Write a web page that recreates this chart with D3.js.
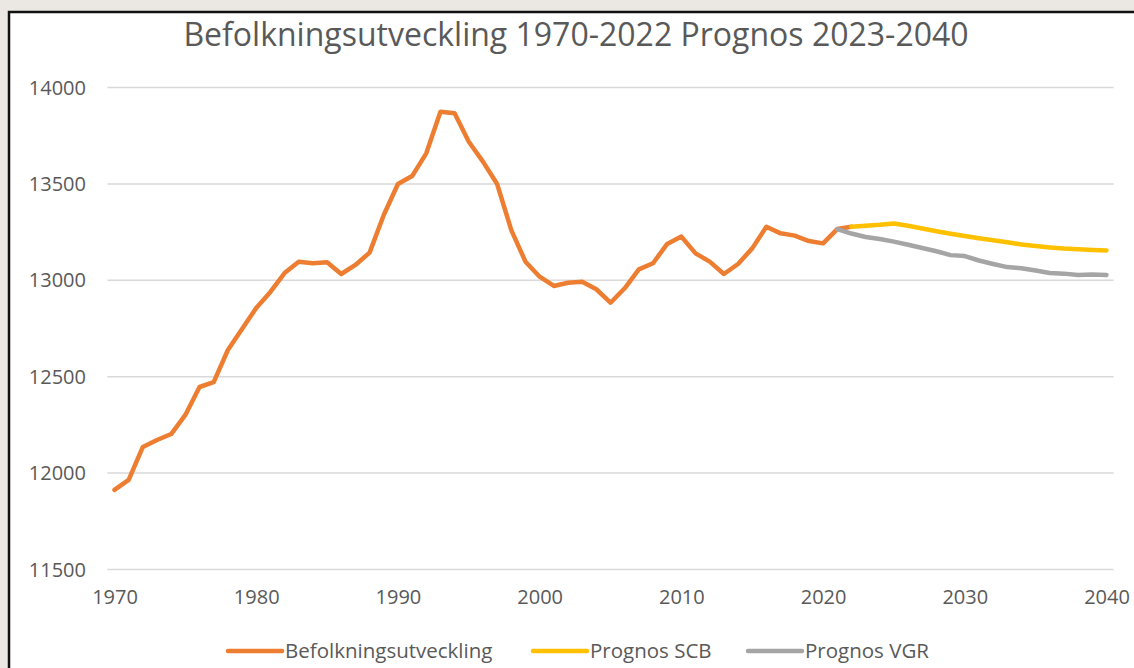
<!DOCTYPE html>
<html>
<head>
<meta charset="utf-8">
<script src="https://cdn.jsdelivr.net/npm/d3@7"></script>
<style>
  html, body { margin: 0; padding: 0; background: #ebe8e4; }
  #chart { width: 1134px; height: 668px; }
  .tick-label { font-family: "Open Sans", sans-serif; fill: #595959; }
</style>
</head>
<body>
<div id="chart"></div>
<script>
// Years shown on the category axis
const years = d3.range(1970, 2041)
const xTickYears = [1970, 1980, 1990, 2000, 2010, 2020, 2030, 2040]
const yTicks = [11500, 12000, 12500, 13000, 13500, 14000]

// Befolkningsutveckling 1970-2022
const histYears = d3.range(1970, 2023)
const histValues = [
  11910, 11962, 12133, 12169, 12200, 12299, 12444, 12469, 12636, 12745,
  12854, 12937, 13035, 13094, 13086, 13091, 13030, 13077, 13141, 13336,
  13497, 13538, 13656, 13872, 13864, 13716, 13613, 13497, 13258, 13094,
  13016, 12968, 12985, 12990, 12951, 12881, 12956, 13054, 13086, 13186,
  13224, 13137, 13094, 13030, 13082, 13163, 13275, 13241, 13229, 13201,
  13189, 13263, 13275
]

// Prognos SCB 2022-2040
const scbYears = d3.range(2022, 2041)
const scbValues = [
  13275, 13280, 13285, 13292, 13280, 13266, 13252, 13239, 13227, 13216,
  13205, 13195, 13183, 13175, 13168, 13162, 13158, 13155, 13152
]

// Prognos VGR 2021-2040
const vgrYears = d3.range(2021, 2041)
const vgrValues = [
  13263, 13240, 13222, 13212, 13198, 13182, 13165, 13148, 13128, 13123,
  13100, 13082, 13066, 13060, 13048, 13035, 13032, 13025, 13028, 13025
]

const seriesNames = ['Befolkningsutveckling', 'Prognos SCB', 'Prognos VGR']
const seriesColors = ['#ED7D31', '#FFC000', '#A5A5A5']

const width = 1134, height = 668

const svg = d3.select('#chart').append('svg')
  .attr('width', width)
  .attr('height', height)

// White chart area with dark frame on left/top
svg.append('rect')
  .attr('x', 9).attr('y', 12)
  .attr('width', width).attr('height', height)
  .attr('fill', '#fff')
  .attr('stroke', '#111')
  .attr('stroke-width', 2.5)

// Scales: category axis, points in the middle of each band
const xScale = d3.scalePoint()
  .domain(years)
  .range([114.5, 1106.5])
const step = xScale.step()

const yScale = d3.scaleLinear()
  .domain([11500, 14000])
  .range([569, 87])

// Grid
const yGrid = d3.axisLeft(yScale).tickValues(yTicks)
  .tickSize(-(step * years.length)).tickFormat('')
svg.append('g')
  .attr('transform', `translate(${xScale(1970) - step / 2},0)`)
  .call(yGrid)
  .call(g => g.select('.domain').remove())
  .call(g => g.selectAll('line').attr('stroke', '#d9d9d9').attr('stroke-width', 1.5))

// Y axis labels
const yAxis = d3.axisLeft(yScale).tickValues(yTicks).tickSize(0).tickPadding(0)
  .tickFormat(d3.format('d'))
svg.append('g')
  .attr('transform', 'translate(86,0)')
  .call(yAxis)
  .call(g => g.select('.domain').remove())
  .call(g => g.selectAll('text').attr('class', 'tick-label')
    .style('font-size', '20px').attr('dy', '0.35em'))

// X axis labels
const xAxis = d3.axisBottom(xScale).tickValues(xTickYears).tickSize(0).tickPadding(0)
svg.append('g')
  .attr('transform', 'translate(0,590)')
  .call(xAxis)
  .call(g => g.select('.domain').remove())
  .call(g => g.selectAll('text').attr('class', 'tick-label')
    .style('font-size', '20px').attr('dy', '0.71em'))

// Lines
const line = d3.line()
  .x(d => xScale(d[0]))
  .y(d => yScale(d[1]))

const seriesData = [
  d3.zip(histYears, histValues),
  d3.zip(scbYears, scbValues),
  d3.zip(vgrYears, vgrValues)
]

// draw orange first, then gray, then yellow on top
;[0, 2, 1].forEach(i => {
  svg.append('path')
    .datum(seriesData[i])
    .attr('fill', 'none')
    .attr('stroke', seriesColors[i])
    .attr('stroke-width', 4.5)
    .attr('stroke-linejoin', 'round')
    .attr('stroke-linecap', 'round')
    .attr('d', line)
})

// Title
svg.append('text')
  .attr('x', 576)
  .attr('y', 46)
  .attr('text-anchor', 'middle')
  .style('font-family', '"Open Sans", sans-serif')
  .style('font-size', '32px')
  .style('fill', '#595959')
  .text('Befolkningsutveckling 1970-2022 Prognos 2023-2040')

// Legend
const legendX = [228, 533, 748]
const legend = svg.append('g')
seriesNames.forEach((name, i) => {
  legend.append('line')
    .attr('x1', legendX[i]).attr('x2', legendX[i] + 54)
    .attr('y1', 651).attr('y2', 651)
    .attr('stroke', seriesColors[i])
    .attr('stroke-width', 4.5)
    .attr('stroke-linecap', 'round')
  legend.append('text')
    .attr('class', 'tick-label')
    .attr('x', legendX[i] + 57)
    .attr('y', 651)
    .attr('dy', '0.35em')
    .style('font-size', '20.5px')
    .text(name)
})
</script>
</body>
</html>
